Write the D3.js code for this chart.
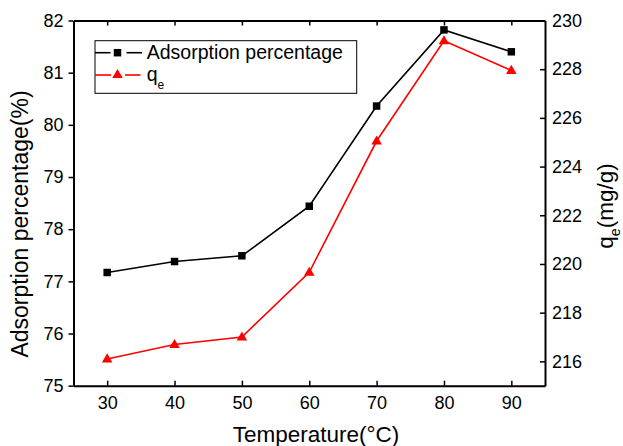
<!DOCTYPE html>
<html><head><meta charset="utf-8">
<script src="https://cdn.jsdelivr.net/npm/d3@7"></script>
<style>
body{margin:0;background:#fff;}
svg{display:block;font-family:"Liberation Sans",Arial,sans-serif;}
</style></head>
<body><svg id="c" width="623" height="446"></svg>
<script>
const temperatures = [30, 40, 50, 60, 70, 80, 90];
const adsorptionPct = [77.17, 77.38, 77.49, 78.44, 80.36, 81.82, 81.40];
const qe = [216.1, 216.69, 217.0, 219.66, 225.05, 229.17, 227.95];
const xTicks = [30, 40, 50, 60, 70, 80, 90];
const leftTicks = [75, 76, 77, 78, 79, 80, 81, 82];
const rightTicks = [216, 218, 220, 222, 224, 226, 228, 230];

const svg = d3.select("#c");
const L = 73.5, R = 545, T = 20.5, B = 385.7;
const x = d3.scaleLinear().domain([25, 95]).range([L, R]);
const yL = d3.scaleLinear().domain([75, 82]).range([B, T]);
const yR = d3.scaleLinear().domain([215, 230]).range([B, T]);
const fmt = d3.format("d");

function styleAxis(g){
  g.selectAll("path").attr("stroke","#000").attr("stroke-width",2);
  g.selectAll("line").attr("stroke","#000").attr("stroke-width",1.5);
  g.selectAll("text").attr("font-size",18).attr("fill","#000").attr("font-family","Liberation Sans, Arial, sans-serif");
}
svg.append("g").attr("transform",`translate(0,${B})`)
  .call(d3.axisBottom(x).tickValues(xTicks).tickFormat(fmt).tickSizeInner(-5).tickSizeOuter(0).tickPadding(11))
  .call(styleAxis);
svg.append("g").attr("transform",`translate(0,${T})`)
  .call(d3.axisTop(x).tickValues(xTicks).tickSizeInner(-5).tickSizeOuter(0).tickFormat(""))
  .call(styleAxis);
svg.append("g").attr("transform",`translate(${L},0)`)
  .call(d3.axisLeft(yL).tickValues(leftTicks).tickFormat(fmt).tickSizeInner(5).tickSizeOuter(0).tickPadding(5))
  .call(styleAxis);
svg.append("g").attr("transform",`translate(${R},0)`)
  .call(d3.axisRight(yR).tickValues(rightTicks).tickFormat(fmt).tickSizeInner(-5).tickSizeOuter(0).tickPadding(7))
  .call(styleAxis);

// lines
const lineL = d3.line().x((d,i)=>x(temperatures[i])).y(d=>yL(d));
const lineR = d3.line().x((d,i)=>x(temperatures[i])).y(d=>yR(d));
svg.append("path").datum(adsorptionPct).attr("d",lineL).attr("fill","none").attr("stroke","#000").attr("stroke-width",1.6);
svg.append("path").datum(qe).attr("d",lineR).attr("fill","none").attr("stroke","#ff0000").attr("stroke-width",1.6);

const sq = d3.symbol().type(d3.symbolSquare).size(56);
const tri = d3.symbol().type(d3.symbolTriangle).size(48);
svg.append("g").selectAll("path").data(adsorptionPct).join("path")
  .attr("d",sq).attr("transform",(d,i)=>`translate(${x(temperatures[i])},${yL(d)})`).attr("fill","#000");
svg.append("g").selectAll("path").data(qe).join("path")
  .attr("d",tri).attr("transform",(d,i)=>`translate(${x(temperatures[i])},${yR(d)+0.5})`).attr("fill","#ff0000");

// legend
const lg = svg.append("g");
lg.append("rect").attr("x",95).attr("y",40.7).attr("width",261.7).attr("height",52.6)
  .attr("fill","#fff").attr("stroke","#000").attr("stroke-width",1);
const ly1 = 52.7, ly2 = 75;
lg.append("line").attr("x1",95).attr("x2",110.5).attr("y1",ly1).attr("y2",ly1).attr("stroke","#000").attr("stroke-width",1.6);
lg.append("line").attr("x1",126.5).attr("x2",142).attr("y1",ly1).attr("y2",ly1).attr("stroke","#000").attr("stroke-width",1.6);
lg.append("path").attr("d",sq).attr("transform",`translate(117.5,${ly1})`).attr("fill","#000");
lg.append("line").attr("x1",95).attr("x2",111).attr("y1",ly2).attr("y2",ly2).attr("stroke","#ff0000").attr("stroke-width",1.6);
lg.append("line").attr("x1",125).attr("x2",140.5).attr("y1",ly2).attr("y2",ly2).attr("stroke","#ff0000").attr("stroke-width",1.6);
lg.append("path").attr("d",tri).attr("transform",`translate(117.5,${ly2})`).attr("fill","#ff0000");
lg.append("text").attr("x",146.7).attr("y",58.5).attr("font-size",19.5).text("Adsorption percentage");
const t2 = lg.append("text").attr("x",146.7).attr("y",81).attr("font-size",19.5);
t2.append("tspan").text("q");
t2.append("tspan").attr("font-size",12).attr("dy",8).text("e");

// titles
svg.append("text").attr("x",316).attr("y",442).attr("text-anchor","middle").attr("font-size",22.5).text("Temperature(°C)");
svg.append("text").attr("transform","translate(28,224) rotate(-90)").attr("text-anchor","middle").attr("font-size",23).text("Adsorption percentage(%)");
const rt = svg.append("text").attr("transform","translate(613,206) rotate(-90)").attr("text-anchor","middle").attr("font-size",22.5);
rt.append("tspan").text("q");
rt.append("tspan").attr("font-size",14).attr("dy",7).text("e");
rt.append("tspan").attr("dy",-7).text("(mg/g)");
</script></body></html>
